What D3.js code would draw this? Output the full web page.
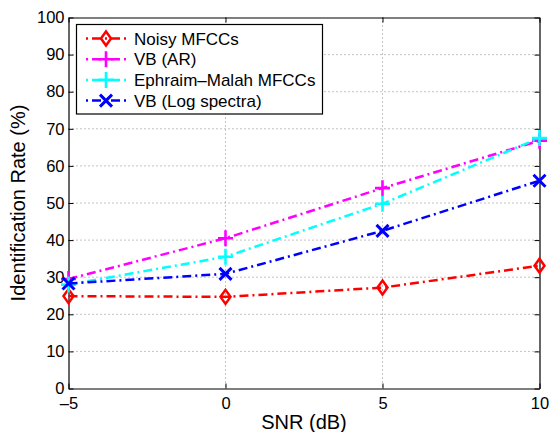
<!DOCTYPE html>
<html><head><meta charset="utf-8">
<script src="https://cdn.jsdelivr.net/npm/d3@7"></script>
<style>body{margin:0;background:#fff}svg{display:block}text{font-family:"Liberation Sans",Arial,Helvetica,sans-serif;fill:#000}</style>
</head><body><svg id="c" width="550" height="432"></svg>
<script>
const snr = [-5, 0, 5, 10];
const noisyMFCC = [24.9, 24.7, 27.2, 33.1];
const vbAR = [29.5, 40.5, 54.0, 66.8];
const ephraimMalah = [28.0, 35.5, 49.8, 67.5];
const vbLog = [28.3, 30.9, 42.5, 56.0];
const seriesNames = ["Noisy MFCCs", "VB (AR)", "Ephraim\u2013Malah MFCCs", "VB (Log spectra)"];
const seriesColors = ["#ff0000", "#ff00ff", "#00ffff", "#0000ff"];
const seriesMarkers = ["diamond", "plus", "plus", "cross"];
const xTicks = [-5, 0, 5, 10];
const yTicks = [0, 10, 20, 30, 40, 50, 60, 70, 80, 90, 100];

const series = [noisyMFCC, vbAR, ephraimMalah, vbLog].map((v, i) => ({
  name: seriesNames[i], color: seriesColors[i], marker: seriesMarkers[i],
  pts: v.map((y, j) => ({x: snr[j], y}))
}));

const L = 68.5, R = 539.5, T = 17.5, B = 388.5;
const svg = d3.select("#c");
const x = d3.scaleLinear().domain([-5, 10]).range([L, R]);
const y = d3.scaleLinear().domain([0, 100]).range([B, T]);

// grid
const g = svg.append("g");
g.selectAll(".gx").data(xTicks.slice(1, -1)).enter().append("line")
  .attr("x1", d => x(d)).attr("x2", d => x(d)).attr("y1", T).attr("y2", B)
  .attr("stroke", "#888").attr("stroke-width", 1).attr("stroke-dasharray", "1,3");
g.selectAll(".gy").data(yTicks.slice(1, -1)).enter().append("line")
  .attr("y1", d => y(d)).attr("y2", d => y(d)).attr("x1", L).attr("x2", R)
  .attr("stroke", "#888").attr("stroke-width", 1).attr("stroke-dasharray", "1,3");

// axes
const ax = svg.append("g").attr("transform", `translate(0,${B})`)
  .call(d3.axisBottom(x).tickValues(xTicks).tickSizeInner(-5).tickSizeOuter(0).tickPadding(9)
    .tickFormat(d => d < 0 ? "\u2013" + Math.abs(d) : d));
const ay = svg.append("g").attr("transform", `translate(${L},0)`)
  .call(d3.axisLeft(y).tickValues(yTicks).tickSizeInner(-5).tickSizeOuter(0).tickPadding(4));
const at = svg.append("g").attr("transform", `translate(0,${T})`)
  .call(d3.axisTop(x).tickValues(xTicks).tickSizeInner(-5).tickSizeOuter(0).tickFormat(""));
const ar = svg.append("g").attr("transform", `translate(${R},0)`)
  .call(d3.axisRight(y).tickValues(yTicks).tickSizeInner(-5).tickSizeOuter(0).tickFormat(""));
[ax, ay, at, ar].forEach(a => {
  a.select(".domain").attr("stroke", "#000").attr("stroke-width", 1.2);
  a.selectAll(".tick line").attr("stroke", "#000");
  a.selectAll("text").attr("font-size", 16.5).attr("font-family", "Liberation Sans, Arial, sans-serif").attr("fill", "#000");
});

// lines
const line = d3.line().x(d => x(d.x)).y(d => y(d.y));
function drawMarker(sel, type, color) {
  if (type === "diamond") {
    sel.append("path").attr("d", "M0,-7L5,0L0,7L-5,0Z")
      .attr("fill", "none").attr("stroke", color).attr("stroke-width", 2.5);
  } else if (type === "plus") {
    sel.append("path").attr("d", "M-7.5,0H7.5M0,-8V8")
      .attr("stroke", color).attr("stroke-width", 2.6);
  } else {
    sel.append("path").attr("d", "M-6,-6L6,6M-6,6L6,-6")
      .attr("stroke", color).attr("stroke-width", 3);
  }
}
series.forEach(s => {
  svg.append("path").datum(s.pts).attr("d", line).attr("fill", "none")
    .attr("stroke", s.color).attr("stroke-width", 2.5).attr("stroke-dasharray", "9,4,2,4");
  s.pts.forEach(p => {
    drawMarker(svg.append("g").attr("transform", `translate(${x(p.x)},${y(p.y)})`), s.marker, s.color);
  });
});

// legend
const lg = svg.append("g");
lg.append("rect").attr("x", 76.5).attr("y", 24.5).attr("width", 246).attr("height", 89.5)
  .attr("fill", "#fff").attr("stroke", "#000").attr("stroke-width", 1.2);
series.forEach((s, i) => {
  const cy = 38.5 + i * 20.7;
  lg.append("line").attr("x1", 85).attr("x2", 127).attr("y1", cy).attr("y2", cy)
    .attr("stroke", s.color).attr("stroke-width", 2.5).attr("stroke-dasharray", "9,4,2,4").attr("stroke-dashoffset", -7);
  drawMarker(lg.append("g").attr("transform", `translate(106,${cy})`), s.marker, s.color);
  lg.append("text").attr("x", 134).attr("y", cy).attr("dy", "0.36em").attr("font-size", 17).text(s.name);
});

// axis labels
svg.append("text").attr("x", (L + R) / 2).attr("y", 429).attr("text-anchor", "middle")
  .attr("font-size", 20).text("SNR (dB)");
svg.append("text").attr("transform", `translate(25,${(T + B) / 2}) rotate(-90)`).attr("text-anchor", "middle")
  .attr("font-size", 20).text("Identification Rate (%)");
</script></body></html>
